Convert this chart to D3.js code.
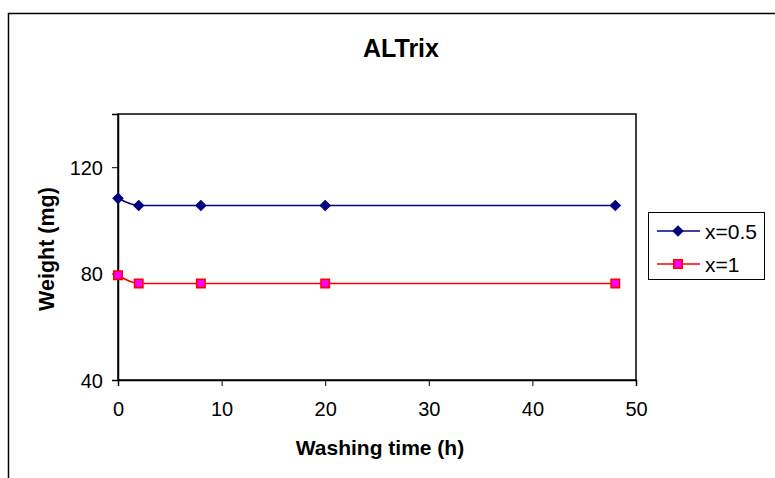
<!DOCTYPE html>
<html>
<head>
<meta charset="utf-8">
<script src="https://cdn.jsdelivr.net/npm/d3@7"></script>
<style>
  body { margin: 0; background: #fff; }
  svg { display: block; font-family: Arial, "Liberation Sans", sans-serif; }
</style>
</head>
<body>
<svg id="chart"></svg>
<script>
// data
const hours = [0, 2, 8, 20, 48];
const seriesNames = ["x=0.5", "x=1"];
const weightHalf = [108.3, 105.6, 105.6, 105.6, 105.6];
const weightOne = [79.4, 76.3, 76.3, 76.3, 76.3];
const xTicks = [0, 10, 20, 30, 40, 50];
const yTicks = [40, 80, 120];

const width = 775;
const height = 478;

const svg = d3.select("#chart")
  .attr("width", width)
  .attr("height", height);

// outer chart border (runs off the right and bottom edges)
svg.append("rect")
  .attr("x", 8.5).attr("y", 13.5)
  .attr("width", 800).attr("height", 500)
  .attr("fill", "#fff")
  .attr("stroke", "#000")
  .attr("stroke-width", 1.5);

const plot = { left: 118, right: 636, top: 114, bottom: 380 };

const x = d3.scaleLinear().domain([0, 50]).range([plot.left, plot.right]);
const y = d3.scaleLinear().domain([40, 140]).range([plot.bottom, plot.top]);

// title
svg.append("text")
  .attr("x", 401).attr("y", 57)
  .attr("text-anchor", "middle")
  .attr("font-size", 25)
  .attr("font-weight", "bold")
  .text("ALTrix");

// plot area box
svg.append("rect")
  .attr("x", plot.left).attr("y", plot.top)
  .attr("width", plot.right - plot.left)
  .attr("height", plot.bottom - plot.top)
  .attr("fill", "#fff")
  .attr("stroke", "#000")
  .attr("stroke-width", 1.5);

// axes
const xAxis = svg.append("g")
  .attr("transform", `translate(0,${plot.bottom})`)
  .call(d3.axisBottom(x).tickValues(xTicks).tickSize(6).tickPadding(16));

const yAxis = svg.append("g")
  .attr("transform", `translate(${plot.left},0)`)
  .call(d3.axisLeft(y).tickValues(yTicks).tickSize(6).tickPadding(9));

[xAxis, yAxis].forEach(a => {
  a.select(".domain").attr("stroke", "#000").attr("stroke-width", 1.5);
  a.selectAll(".tick line").attr("stroke", "#000");
  a.selectAll(".tick text")
    .attr("font-size", 20)
    .attr("font-family", "Arial, 'Liberation Sans', sans-serif")
    .attr("fill", "#000");
});
yAxis.selectAll(".tick text").attr("dy", "0.36em");

// axis titles
svg.append("text")
  .attr("x", 380).attr("y", 455)
  .attr("text-anchor", "middle")
  .attr("font-size", 21)
  .attr("font-weight", "bold")
  .text("Washing time (h)");

svg.append("text")
  .attr("transform", "translate(54,249) rotate(-90)")
  .attr("text-anchor", "middle")
  .attr("font-size", 21.5)
  .attr("font-weight", "bold")
  .text("Weight (mg)");

// series
const series = [
  { name: seriesNames[0], values: weightHalf, stroke: "#000080", fill: "#000080", size: 52, rotate: 45, sw: 1 },
  { name: seriesNames[1], values: weightOne, stroke: "#ff0000", fill: "#ff00ff", size: 70, rotate: 0, sw: 1.6 }
];

const line = d3.line()
  .x(d => x(d[0]))
  .y(d => y(d[1]))
  .curve(d3.curveMonotoneX);

series.forEach(s => {
  const pts = hours.map((h, i) => [h, s.values[i]]);
  svg.append("path")
    .datum(pts)
    .attr("d", line)
    .attr("fill", "none")
    .attr("stroke", s.stroke)
    .attr("stroke-width", 1.6);

  svg.selectAll(null)
    .data(pts)
    .join("path")
    .attr("transform", d => `translate(${x(d[0])},${y(d[1])}) rotate(${s.rotate})`)
    .attr("d", d3.symbol().type(d3.symbolSquare).size(s.size))
    .attr("fill", s.fill)
    .attr("stroke", s.stroke)
    .attr("stroke-width", s.sw);
});

// legend
const legend = svg.append("g").attr("transform", "translate(648,212)");

legend.append("rect")
  .attr("x", 0.5).attr("y", 0.5)
  .attr("width", 116).attr("height", 67)
  .attr("fill", "#fff")
  .attr("stroke", "#000");

const item = legend.selectAll("g.item")
  .data(series)
  .join("g")
  .attr("class", "item")
  .attr("transform", (d, i) => `translate(0,${19 + i * 33})`);

item.append("line")
  .attr("x1", 9).attr("x2", 52)
  .attr("stroke", d => d.stroke)
  .attr("stroke-width", 1.6);

item.append("path")
  .attr("transform", d => `translate(30,0) rotate(${d.rotate})`)
  .attr("d", d => d3.symbol().type(d3.symbolSquare).size(d.size)())
  .attr("fill", d => d.fill)
  .attr("stroke", d => d.stroke)
  .attr("stroke-width", d => d.sw);

item.append("text")
  .attr("x", 57)
  .attr("dy", "0.36em")
  .attr("font-size", 21)
  .text(d => d.name);
</script>
</body>
</html>
